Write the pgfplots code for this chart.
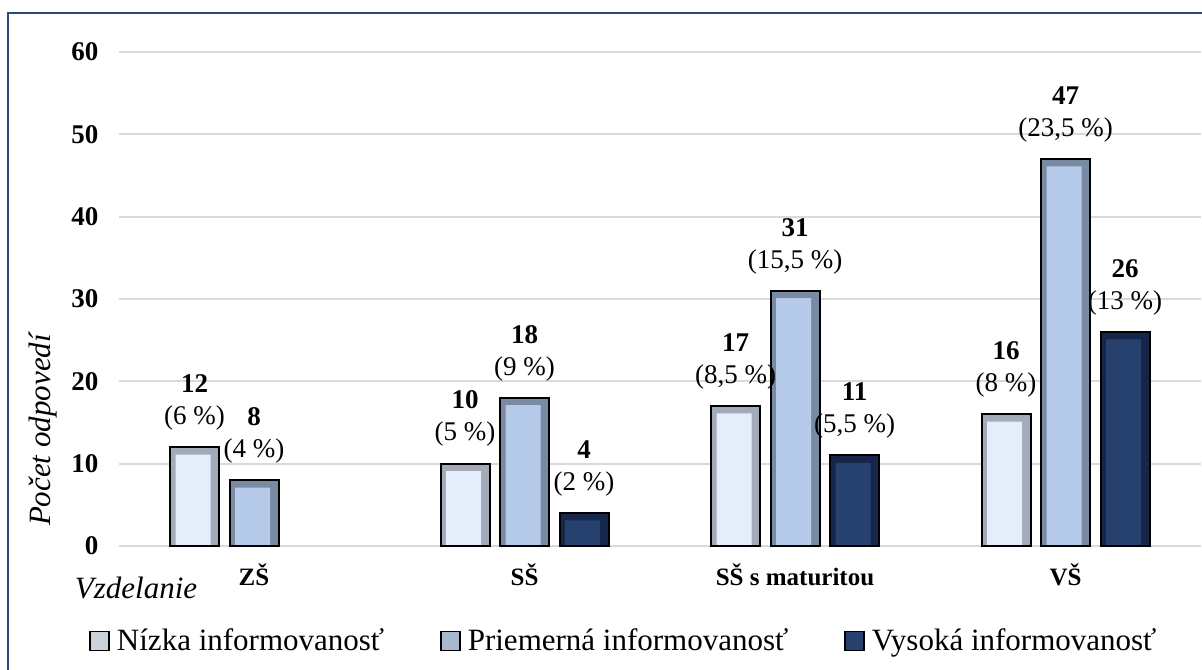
\documentclass[border=0pt]{standalone}
\usepackage{fontspec}
\setmainfont{Liberation Serif}
\usepackage{pgfplots}
\usepackage{pgfplotstable}
\pgfplotsset{compat=1.18}
\definecolor{lowF}{HTML}{E4EDFA}
\definecolor{lowS}{HTML}{A3ABB9}
\definecolor{midF}{HTML}{B6CBEA}
\definecolor{midS}{HTML}{7A8AA3}
\definecolor{hiF}{HTML}{26416E}
\definecolor{hiS}{HTML}{16264A}
\definecolor{frameC}{HTML}{2E4A7D}
\definecolor{gridC}{HTML}{D9D9D9}

\pgfplotstableread{
x v p
0 12 6
1 10 5
2 17 8,5
3 16 8
}\tabLow
\pgfplotstableread{
x v p
0 8 4
1 18 9
2 31 15,5
3 47 23,5
}\tabMid
\pgfplotstableread{
x v p
1 4 2
2 11 5,5
3 26 13
}\tabHigh

\begin{document}
\begin{tikzpicture}
\useasboundingbox (0,0) rectangle (601pt,334.5pt);
\draw[frameC, line width=1.2pt] (4pt,-20pt) rectangle (640pt,328pt);
\begin{axis}[
  at={(59.375pt,61.5pt)}, anchor=south west,
  width=541pt, height=247pt, scale only axis,
  xmin=-0.5, xmax=3.5, ymin=0, ymax=60,
  ytick={0,10,...,60},
  xtick={0,1,2,3},
  xticklabels={ZŠ,SŠ,SŠ s maturitou,VŠ},
  ymajorgrids, grid style={gridC, line width=1pt},
  axis line style={draw=none},
  major tick length=0pt,
  /pgf/number format/assume math mode=true,
  yticklabel style={anchor=east, inner sep=0pt, xshift=-10pt, font=\bfseries\fontsize{13.5}{13.5}\selectfont},
  xticklabel style={anchor=base, inner sep=0pt, yshift=-19.5pt, font=\bfseries\fontsize{12.5}{12.5}\selectfont},
  ybar, bar width=24.5pt,
  clip=false,
  legend columns=3,
  legend image code/.code={\draw[#1] (0pt,-4.75pt) rectangle (9.5pt,4.75pt);},
  legend style={at={(-0.0275,-0.192)}, anchor=west, draw=none, fill=none, inner sep=0pt,
    font=\rmfamily\fontsize{15.5}{15.5}\selectfont,
    /tikz/every odd column/.append style={column sep=1.5pt},
    /tikz/every even column/.append style={column sep=26pt}},
  nodelab/.style={nodes near coords={\textbf{\pgfmathprintnumber{\vv}}\\(\pgfplotspointmeta~\%)},
    point meta=explicit symbolic,
    visualization depends on={y \as \vv},
    every node near coord/.append style={font=\fontsize{13.5}{16}\selectfont, align=center, anchor=south, inner sep=0pt, yshift=8pt, text=black}},
]
% low
\addplot[fill=lowS, draw=none, bar shift=-29.75pt, forget plot] table[x=x,y=v]{\tabLow};
\addplot[fill=lowF, draw=none, bar shift=-30.5pt, bar width=17.5pt, forget plot] table[x=x,y expr=\thisrow{v}-0.9]{\tabLow};
\addplot[fill=none, draw=black, line width=1pt, bar shift=-29.75pt, forget plot, nodelab] table[x=x,y=v,meta=p]{\tabLow};
% mid
\addplot[fill=midS, draw=none, bar shift=0pt, forget plot] table[x=x,y=v]{\tabMid};
\addplot[fill=midF, draw=none, bar shift=-0.75pt, bar width=17.5pt, forget plot] table[x=x,y expr=\thisrow{v}-0.9]{\tabMid};
\addplot[fill=none, draw=black, line width=1pt, bar shift=0pt, forget plot, nodelab] table[x=x,y=v,meta=p]{\tabMid};
% high
\addplot[fill=hiS, draw=none, bar shift=29.75pt, forget plot] table[x=x,y=v]{\tabHigh};
\addplot[fill=hiF, draw=none, bar shift=29pt, bar width=17.5pt, forget plot] table[x=x,y expr=\thisrow{v}-0.9]{\tabHigh};
\addplot[fill=none, draw=black, line width=1pt, bar shift=29.75pt, forget plot, nodelab] table[x=x,y=v,meta=p]{\tabHigh};

\addlegendimage{fill=lowF!75!gray, draw=black, line width=0.8pt}
\addlegendentry{Nízka informovanosť}
\addlegendimage{fill=midF!75!gray, draw=black, line width=0.8pt}
\addlegendentry{Priemerná informovanosť}
\addlegendimage{fill=hiF, draw=black, line width=0.8pt}
\addlegendentry{Vysoká informovanosť}
\end{axis}
\node[rotate=90, font=\itshape\fontsize{15.5}{15.5}\selectfont] at (21.5pt,119.5pt) {Počet odpovedí};
\node[anchor=base, inner sep=0pt, font=\itshape\fontsize{15.5}{15.5}\selectfont] at (68pt,35.5pt) {Vzdelanie};
\end{tikzpicture}
\end{document}
